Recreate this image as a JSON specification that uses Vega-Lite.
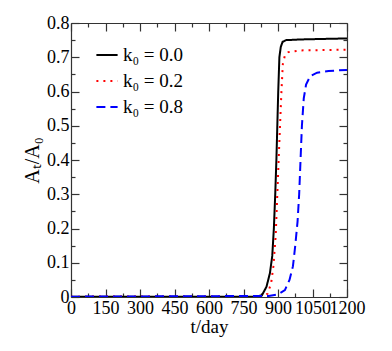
{
  "$schema": "https://vega.github.io/schema/vega-lite/v6.json",
  "width": 276,
  "height": 274,
  "autosize": {"type": "none"},
  "padding": {"left": 71, "top": 23, "right": 45, "bottom": 54},
  "background": "white",
  "config": {
    "view": {"stroke": null},
    "font": "Times New Roman",
    "text": {"font": "Times New Roman"},
    "legend": {"labelFont": "Times New Roman", "titleFont": "Times New Roman"},
    "axis": {"grid": false, "domainColor": "#333333", "tickColor": "#333333", "labelColor": "black", "titleColor": "black", "labelFont": "Times New Roman", "titleFont": "Times New Roman", "labelFontSize": 18, "titleFontSize": 19, "titleFontWeight": "normal", "domainWidth": 1.2, "tickWidth": 1.2}
  },
  "data": {"values": [
    {"t": 0, "v": 0.001, "k": "k₀ = 0.0"},
    {"t": 800, "v": 0.001, "k": "k₀ = 0.0"},
    {"t": 830, "v": 0.005, "k": "k₀ = 0.0"},
    {"t": 850, "v": 0.03, "k": "k₀ = 0.0"},
    {"t": 865, "v": 0.07, "k": "k₀ = 0.0"},
    {"t": 875, "v": 0.12, "k": "k₀ = 0.0"},
    {"t": 882, "v": 0.2, "k": "k₀ = 0.0"},
    {"t": 888, "v": 0.3, "k": "k₀ = 0.0"},
    {"t": 893, "v": 0.4, "k": "k₀ = 0.0"},
    {"t": 897, "v": 0.5, "k": "k₀ = 0.0"},
    {"t": 901, "v": 0.6, "k": "k₀ = 0.0"},
    {"t": 906, "v": 0.7, "k": "k₀ = 0.0"},
    {"t": 912, "v": 0.73, "k": "k₀ = 0.0"},
    {"t": 920, "v": 0.745, "k": "k₀ = 0.0"},
    {"t": 935, "v": 0.75, "k": "k₀ = 0.0"},
    {"t": 1000, "v": 0.752, "k": "k₀ = 0.0"},
    {"t": 1200, "v": 0.755, "k": "k₀ = 0.0"},
    {"t": 0, "v": 0.001, "k": "k₀ = 0.2"},
    {"t": 840, "v": 0.002, "k": "k₀ = 0.2"},
    {"t": 855, "v": 0.01, "k": "k₀ = 0.2"},
    {"t": 870, "v": 0.04, "k": "k₀ = 0.2"},
    {"t": 880, "v": 0.09, "k": "k₀ = 0.2"},
    {"t": 890, "v": 0.18, "k": "k₀ = 0.2"},
    {"t": 897, "v": 0.3, "k": "k₀ = 0.2"},
    {"t": 904, "v": 0.42, "k": "k₀ = 0.2"},
    {"t": 910, "v": 0.52, "k": "k₀ = 0.2"},
    {"t": 915, "v": 0.6, "k": "k₀ = 0.2"},
    {"t": 921, "v": 0.68, "k": "k₀ = 0.2"},
    {"t": 930, "v": 0.705, "k": "k₀ = 0.2"},
    {"t": 945, "v": 0.715, "k": "k₀ = 0.2"},
    {"t": 1000, "v": 0.72, "k": "k₀ = 0.2"},
    {"t": 1200, "v": 0.722, "k": "k₀ = 0.2"},
    {"t": 0, "v": 0.001, "k": "k₀ = 0.8"},
    {"t": 860, "v": 0.003, "k": "k₀ = 0.8"},
    {"t": 900, "v": 0.008, "k": "k₀ = 0.8"},
    {"t": 930, "v": 0.02, "k": "k₀ = 0.8"},
    {"t": 950, "v": 0.05, "k": "k₀ = 0.8"},
    {"t": 965, "v": 0.09, "k": "k₀ = 0.8"},
    {"t": 975, "v": 0.15, "k": "k₀ = 0.8"},
    {"t": 985, "v": 0.22, "k": "k₀ = 0.8"},
    {"t": 992, "v": 0.3, "k": "k₀ = 0.8"},
    {"t": 998, "v": 0.4, "k": "k₀ = 0.8"},
    {"t": 1004, "v": 0.5, "k": "k₀ = 0.8"},
    {"t": 1012, "v": 0.58, "k": "k₀ = 0.8"},
    {"t": 1022, "v": 0.62, "k": "k₀ = 0.8"},
    {"t": 1040, "v": 0.645, "k": "k₀ = 0.8"},
    {"t": 1070, "v": 0.655, "k": "k₀ = 0.8"},
    {"t": 1120, "v": 0.66, "k": "k₀ = 0.8"},
    {"t": 1200, "v": 0.663, "k": "k₀ = 0.8"}
  ]},
  "resolve": {"axis": {"x": "independent", "y": "independent"}},
  "layer": [
    {
      "mark": {"type": "line", "strokeWidth": 2, "clip": true},
      "encoding": {
        "x": {"field": "t", "type": "quantitative", "scale": {"domain": [0, 1200], "nice": false},
              "axis": {"orient": "bottom", "title": "t/day", "values": [0, 150, 300, 450, 600, 750, 900, 1050, 1200], "format": "d", "tickSize": -8, "labelPadding": 10, "titlePadding": 0, "labelFlush": false, "labelOverlap": false, "labelFont": "Times New Roman", "labelFontSize": 18, "titleFont": "Times New Roman", "titleFontSize": 19}},
        "y": {"field": "v", "type": "quantitative", "scale": {"domain": [0, 0.8], "nice": false},
              "axis": {"orient": "left", "title": "Aₜ/A₀", "values": [0, 0.1, 0.2, 0.3, 0.4, 0.5, 0.6, 0.7, 0.8], "tickSize": -8, "labelPadding": 10, "titlePadding": 4, "labelFlush": false, "labelOverlap": false, "format": "~g", "labelFont": "Times New Roman", "labelFontSize": 18, "titleFont": "Times New Roman", "titleFontSize": 20}},
        "color": {"field": "k", "type": "nominal",
                  "scale": {"domain": ["k₀ = 0.0", "k₀ = 0.2", "k₀ = 0.8"], "range": ["#000000", "#ff0000", "#0000ff"]},
                  "legend": {"orient": "none", "legendX": 24, "legendY": 20, "title": null, "symbolType": "stroke", "symbolSize": 450, "symbolStrokeWidth": 2, "labelFont": "Times New Roman", "labelFontSize": 19, "labelColor": "black", "rowPadding": 4, "labelOffset": 4}},
        "strokeDash": {"field": "k", "type": "nominal",
                       "scale": {"domain": ["k₀ = 0.0", "k₀ = 0.2", "k₀ = 0.8"], "range": [[1, 0], [2, 5], [9, 5]]},
                       "legend": null}
      }
    },
    {
      "mark": {"type": "line", "opacity": 0},
      "encoding": {
        "x": {"field": "t", "type": "quantitative", "axis": {"orient": "bottom", "title": null, "labels": false, "values": [75, 225, 375, 525, 675, 825, 975, 1125], "tickSize": -4, "domain": false}},
        "y": {"field": "v", "type": "quantitative", "axis": {"orient": "left", "title": null, "labels": false, "values": [0.05, 0.15, 0.25, 0.35, 0.45, 0.55, 0.65, 0.75], "tickSize": -4, "domain": false}},
        "detail": {"field": "k"}
      }
    },
    {
      "mark": {"type": "line", "opacity": 0},
      "encoding": {
        "x": {"field": "t", "type": "quantitative", "axis": {"orient": "top", "title": null, "labels": false, "values": [0, 150, 300, 450, 600, 750, 900, 1050, 1200], "tickSize": -8}},
        "y": {"field": "v", "type": "quantitative", "axis": {"orient": "right", "title": null, "labels": false, "values": [0, 0.1, 0.2, 0.3, 0.4, 0.5, 0.6, 0.7, 0.8], "tickSize": -8}},
        "detail": {"field": "k"}
      }
    },
    {
      "mark": {"type": "line", "opacity": 0},
      "encoding": {
        "x": {"field": "t", "type": "quantitative", "axis": {"orient": "top", "title": null, "labels": false, "values": [75, 225, 375, 525, 675, 825, 975, 1125], "tickSize": -4, "domain": false}},
        "y": {"field": "v", "type": "quantitative", "axis": {"orient": "right", "title": null, "labels": false, "values": [0.05, 0.15, 0.25, 0.35, 0.45, 0.55, 0.65, 0.75], "tickSize": -4, "domain": false}},
        "detail": {"field": "k"}
      }
    }
  ]
}
